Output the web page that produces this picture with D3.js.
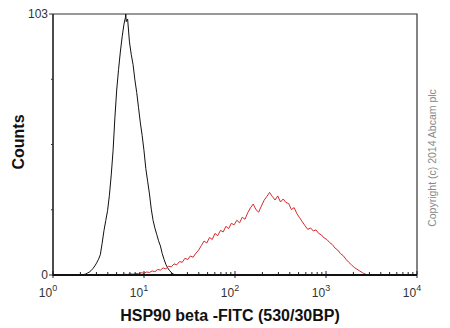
<!DOCTYPE html>
<html>
<head>
<meta charset="utf-8">
<script src="https://cdn.jsdelivr.net/npm/d3@7"></script>
<style>
  body { margin: 0; background: #fff; }
  svg { display: block; }
  text { font-family: Arial, "Liberation Sans", sans-serif; }
</style>
</head>
<body>
<svg id="chart" width="450" height="328"></svg>
<script>
// isotype control (black), log10 of FITC intensity and counts
var ctrlLog = [0.30,0.32,0.34,0.36,0.38,0.40,0.42,0.44,0.46,0.48,0.50,0.52,0.54,0.56,0.58,0.60,0.62,0.64,0.66,0.68,
               0.70,0.72,0.74,0.76,0.78,0.795,0.80,0.805,0.82,0.84,0.86,0.88,0.90,0.92,0.94,0.96,0.98,1.00,1.02,1.04,
               1.06,1.08,1.10,1.12,1.14,1.16,1.18,1.20,1.22,1.24,1.26,1.28,1.30,1.32,1.34,1.36];
var ctrlCounts = [0,0.1,0.2,0.4,0.8,1.2,1.8,2.6,3.6,4.8,6.2,8.0,12.5,17.5,21.5,25.5,31.5,39.5,49,62,
                  73,81,88,94,99,101.5,103,100,101,92,87,83,77,72,66,60,55,49,42,37,
                  32,26,21.5,18.5,16,13.5,11.5,8.5,6.2,4.2,2.8,1.8,1.0,0.4,0.1,0];

// HSP90 beta stained sample (red)
var hspLog = [0.70,0.73,0.76,0.79,0.82,0.85,0.88,0.91,0.94,0.97,1.00,1.03,1.06,1.09,1.12,1.15,1.18,1.21,1.24,1.27,
              1.30,1.33,1.36,1.39,1.42,1.45,1.48,1.51,1.54,1.57,1.60,1.63,1.66,1.69,1.72,1.75,1.78,1.81,1.84,1.87,
              1.90,1.93,1.96,1.99,2.02,2.05,2.08,2.11,2.14,2.17,2.20,2.23,2.26,2.29,2.32,2.35,2.38,2.41,2.44,2.47,
              2.50,2.53,2.56,2.59,2.62,2.65,2.68,2.71,2.74,2.77,2.80,2.83,2.86,2.89,2.92,2.95,2.98,3.01,3.04,3.07,
              3.10,3.13,3.16,3.19,3.22,3.25,3.28,3.31,3.34,3.37,3.40,3.43,3.46];
var hspCounts = [0,0.2,0.1,0.3,0.2,0.5,0.3,0.6,0.5,0.9,0.7,1.2,1.0,1.6,1.3,2.2,1.9,2.8,2.4,3.5,
                 3.2,4.4,4.0,5.3,5.0,6.6,6.1,7.5,7.0,8.6,9.8,11.6,13.4,12.6,14.8,14.0,16.4,15.5,17.6,17.0,
                 19.2,18.3,20.4,19.8,21.6,20.6,22.8,22.0,24.6,26.5,28.0,25.8,24.8,27.2,29.5,31.0,32.6,31.0,29.6,31.2,
                 28.8,30.0,28.6,28.2,25.8,26.6,24.2,22.6,21.0,19.4,18.0,18.6,17.4,17.8,16.4,15.8,14.6,14.0,12.8,12.0,
                 10.6,9.8,8.4,7.6,6.2,5.0,4.0,3.0,2.3,1.6,0.9,0.4,0];

var xDecades = [1, 10, 100, 1000, 10000];
var xExponents = ["0", "1", "2", "3", "4"];
var yTicks = [0, 25.75, 51.5, 77.25, 103];
var yLabels = ["0", "", "", "", "103"];

var svg = d3.select('#chart');
var pLeft = 53, pRight = 417, pTop = 14, pBottom = 275;

var x = d3.scaleLog().domain([1, 10000]).range([pLeft, pRight]);
var y = d3.scaleLinear().domain([0, 103]).range([pBottom, pTop]);

// frame: top and right borders
svg.append('path')
    .attr('d', 'M' + pLeft + ',' + pTop + 'H' + pRight + 'V' + pBottom)
    .attr('fill', 'none')
    .attr('stroke', '#333')
    .attr('stroke-width', 1.2);

// curves
var line = d3.line()
    .x(function(d) { return x(Math.pow(10, d[0])); })
    .y(function(d) { return y(d[1]); });

svg.append('path')
    .datum(d3.zip(ctrlLog, ctrlCounts))
    .attr('d', line)
    .attr('fill', 'none')
    .attr('stroke', '#111')
    .attr('stroke-width', 1);

svg.append('path')
    .datum(d3.zip(hspLog, hspCounts))
    .attr('d', line)
    .attr('fill', 'none')
    .attr('stroke', '#d7282d')
    .attr('stroke-width', 1);

// x axis with log minor ticks pointing inwards
var minor = [];
for (var i = 0; i < 4; i++) {
    for (var k = 2; k <= 9; k++) minor.push(xDecades[i] * k);
}
svg.selectAll('.xminor')
    .data(minor)
    .enter()
    .append('line')
    .attr('x1', function(d) { return x(d); })
    .attr('x2', function(d) { return x(d); })
    .attr('y1', pBottom)
    .attr('y2', pBottom - 3)
    .attr('stroke', '#222');

svg.selectAll('.xmajor')
    .data(xDecades)
    .enter()
    .append('line')
    .attr('x1', function(d) { return x(d); })
    .attr('x2', function(d) { return x(d); })
    .attr('y1', pBottom - 4)
    .attr('y2', pBottom + 3)
    .attr('stroke', '#222');

svg.append('line')
    .attr('x1', pLeft).attr('x2', pRight)
    .attr('y1', pBottom).attr('y2', pBottom)
    .attr('stroke', '#111')
    .attr('stroke-width', 2);

var xl = svg.selectAll('.xlab')
    .data(xDecades)
    .enter()
    .append('text')
    .attr('x', function(d) { return x(d) - 5; })
    .attr('y', 297)
    .attr('text-anchor', 'middle')
    .attr('font-size', 12)
    .attr('fill', '#333');
xl.append('tspan').text('10');
xl.append('tspan')
    .attr('dy', -6)
    .attr('font-size', 9)
    .text(function(d, i) { return xExponents[i]; });

// y axis
svg.append('line')
    .attr('x1', pLeft).attr('x2', pLeft)
    .attr('y1', pTop).attr('y2', pBottom + 1)
    .attr('stroke', '#111')
    .attr('stroke-width', 1.5);

svg.selectAll('.ytick')
    .data(yTicks)
    .enter()
    .append('line')
    .attr('x1', function(d, i) { return yLabels[i] ? pLeft - 4 : pLeft - 2; })
    .attr('x2', pLeft)
    .attr('y1', function(d) { return y(d); })
    .attr('y2', function(d) { return y(d); })
    .attr('stroke', '#333');

svg.selectAll('.ylab')
    .data(yTicks)
    .enter()
    .append('text')
    .attr('x', pLeft - 5)
    .attr('y', function(d) { return y(d) + 4; })
    .attr('text-anchor', 'end')
    .attr('font-size', 12)
    .attr('fill', '#333')
    .text(function(d, i) { return yLabels[i]; });

// titles
svg.append('text')
    .attr('x', 230)
    .attr('y', 321)
    .attr('text-anchor', 'middle')
    .attr('font-size', 16)
    .attr('font-weight', 'bold')
    .attr('fill', '#111')
    .text('HSP90 beta -FITC (530/30BP)');

svg.append('text')
    .attr('transform', 'translate(24,142) rotate(-90)')
    .attr('text-anchor', 'middle')
    .attr('font-size', 16)
    .attr('font-weight', 'bold')
    .attr('fill', '#111')
    .text('Counts');

svg.append('text')
    .attr('transform', 'translate(436,158) rotate(-90)')
    .attr('text-anchor', 'middle')
    .attr('font-size', 10.5)
    .attr('fill', '#888')
    .text('Copyright (c) 2014 Abcam plc');
</script>
</body>
</html>
